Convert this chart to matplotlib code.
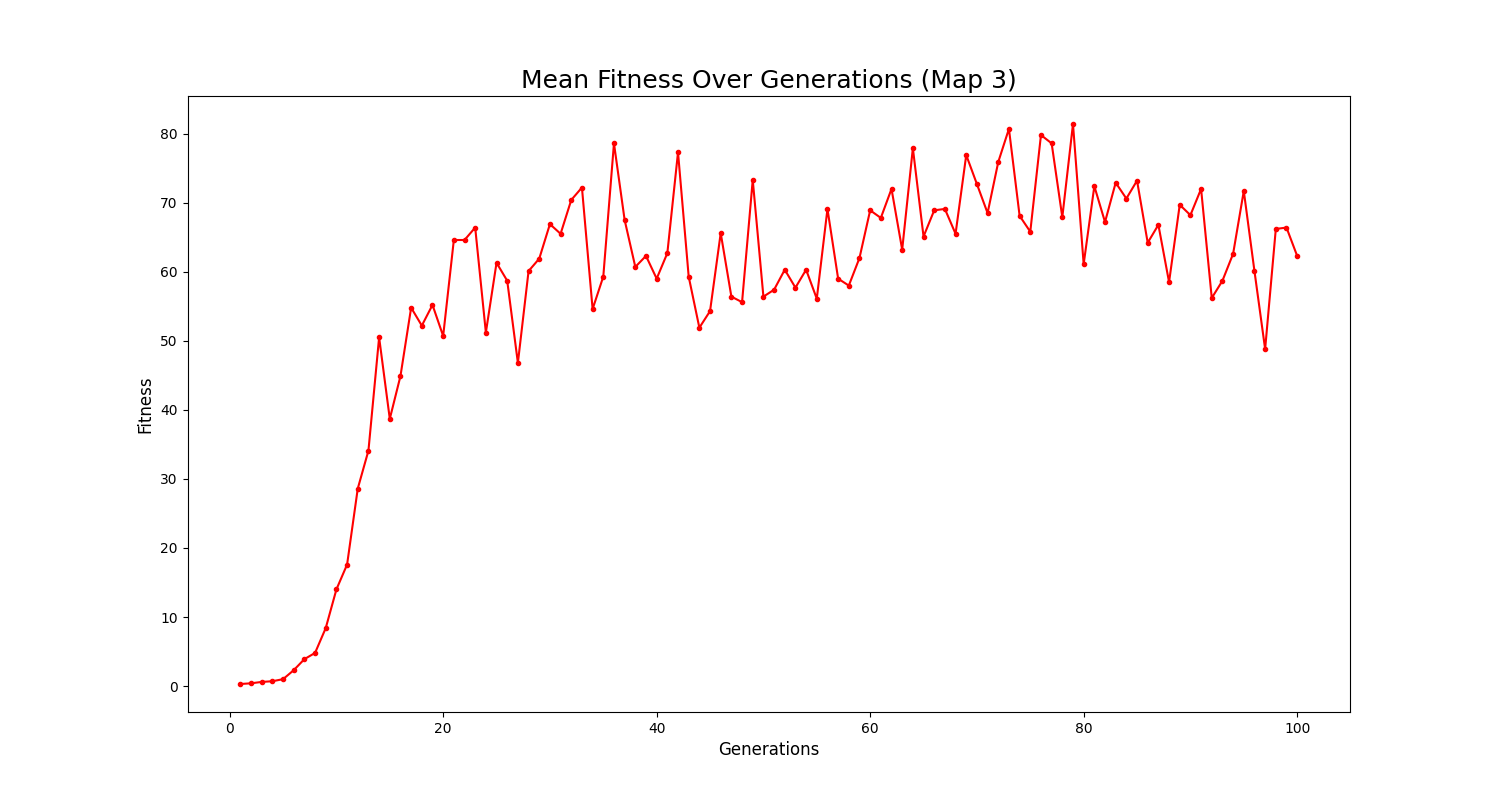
import matplotlib
matplotlib.use('Agg')
import matplotlib.pyplot as plt

# mean fitness per generation
generations = list(range(1, 101))
mean_fitness = [
    0.3, 0.4, 0.6, 0.7, 1.0, 2.3, 3.9, 4.8, 8.4, 14.0,
    17.6, 28.6, 34.1, 50.5, 38.7, 44.9, 54.8, 52.2, 55.2, 50.7,
    64.6, 64.6, 66.4, 51.2, 61.3, 58.7, 46.8, 60.1, 61.9, 66.9,
    65.5, 70.4, 72.2, 54.6, 59.3, 78.6, 67.5, 60.7, 62.3, 59.0,
    62.7, 77.3, 59.3, 51.9, 54.3, 65.6, 56.4, 55.6, 73.3, 56.4,
    57.4, 60.3, 57.7, 60.3, 56.1, 69.1, 59.0, 58.0, 62.0, 68.9,
    67.8, 72.0, 63.2, 77.9, 65.1, 68.9, 69.1, 65.5, 76.9, 72.7,
    68.5, 75.9, 80.7, 68.1, 65.8, 79.8, 78.6, 67.9, 81.4, 61.1,
    72.4, 67.2, 72.9, 70.6, 73.2, 64.2, 66.8, 58.5, 69.7, 68.2,
    72.0, 56.2, 58.7, 62.6, 71.7, 60.1, 48.8, 66.2, 66.4, 62.3,
]

fig, ax = plt.subplots(figsize=(15, 8), dpi=100)
ax.plot(generations, mean_fitness, color='red', marker='o', markersize=3, linewidth=1.5)
ax.set_title('Mean Fitness Over Generations (Map 3)', fontsize=18)
ax.set_xlabel('Generations', fontsize=12)
ax.set_ylabel('Fitness', fontsize=12)

fig.savefig('out.png', dpi=100)
plt.close()
